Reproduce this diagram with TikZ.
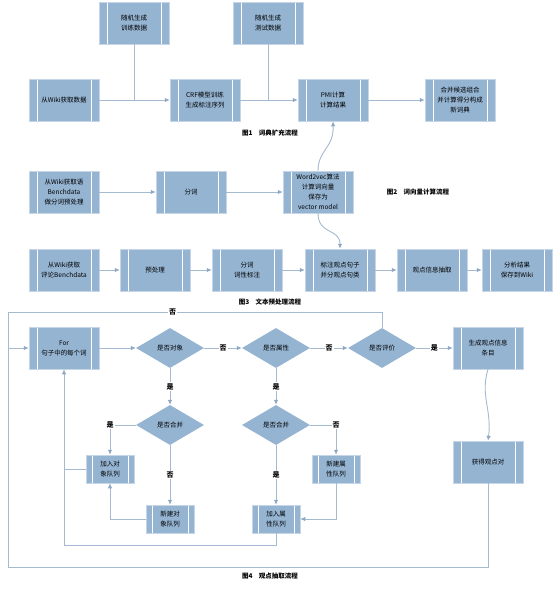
\documentclass[tikz,border=0pt]{standalone}
\usepackage{fontspec}
\setmainfont{Noto Sans CJK SC}
\usetikzlibrary{arrows.meta,shapes.geometric}
\definecolor{boxblue}{HTML}{95B4D2}
\definecolor{boxedge}{HTML}{C6D6E6}
\definecolor{linkc}{HTML}{A3BAD1}
\definecolor{tipc}{HTML}{8DA8C4}
\tikzset{
  procbox/.style={rectangle, fill=boxblue, draw=boxedge, line width=0.5pt,
    minimum width=70pt, minimum height=42pt, inner sep=0pt, align=center,
    font=\fontsize{6.5pt}{10pt}\selectfont, text=black,
    path picture={
      \draw[white, line width=0.9pt]
        ([xshift=#1]path picture bounding box.north west) -- ([xshift=#1]path picture bounding box.south west)
        ([xshift=-#1]path picture bounding box.north east) -- ([xshift=-#1]path picture bounding box.south east);
    }},
  procbox/.default=8pt,
  smallbox/.style={procbox=6pt, minimum width=48pt, minimum height=28pt},
  decide/.style={diamond, fill=boxblue, draw=none, minimum width=68pt, minimum height=40pt,
    inner sep=0pt, font=\fontsize{6.5pt}{8pt}\selectfont, text=black},
  link/.style={draw=linkc, line width=0.9pt},
  flow/.style={link, -{Latex[length=5pt,width=4.5pt,color=tipc]}},
  lab/.style={fill=white, inner sep=1pt, font=\fontsize{7pt}{8pt}\selectfont\bfseries},
  caption/.style={font=\fontsize{6.5pt}{8pt}\selectfont\bfseries, inner sep=0pt}
}
\begin{document}
\begin{tikzpicture}[x=1pt,y=-1pt]
\useasboundingbox[fill=white] (0,0) rectangle (554,589);

% ---------- dictionary expansion ----------
\node[procbox] (gtrain) at (134,23) {随机生成\\训练数据};
\node[procbox] (gtest)  at (268,23) {随机生成\\测试数据};
\node[procbox] (wiki1)  at (64,100) {从Wiki获取数据};
\node[procbox] (crf)    at (205,100) {CRF模型训练\\生成标注序列};
\node[procbox] (pmi)    at (333,100) {PMI计算\\计算结果};
\node[procbox] (merge)  at (460,100) {合并候选组合\\并计算得分构成\\新词典};
\node[caption] (cap1)   at (270,133) {图1\quad 词典扩充流程};

\draw[flow] (wiki1) -- (crf);
\draw[link] (gtrain.south) -- (gtrain.south |- crf.west);
\draw[flow] (crf) -- (pmi);
\draw[link] (gtest.south) -- (gtest.south |- pmi.west);
\draw[flow] (pmi) -- (merge);

% ---------- word vector computation ----------
\node[procbox] (wiki2) at (64,192) {从Wiki获取语\\Benchdata\\做分词预处理};
\node[procbox] (seg)   at (191,192) {分词};
\node[procbox] (w2v)   at (318,192) {Word2vec算法\\计算词向量\\保存为\\vector model};
\node[caption] (cap2)  at (418,192) {图2\quad 词向量计算流程};

\draw[flow] (wiki2) -- (seg);
\draw[flow] (seg) -- (w2v);
\draw[flow] (w2v.north) .. controls (318,150) and (334,148) .. (pmi.south);

% ---------- text preprocessing ----------
\node[procbox] (wiki3) at (64,270)  {从Wiki获取\\评论Benchdata};
\node[procbox] (prep)  at (155,270) {预处理};
\node[procbox] (tag)   at (247,270) {分词\\词性标注};
\node[procbox] (sent)  at (340,270) {标注观点句子\\并分观点句类};
\node[procbox] (ext)   at (432,270) {观点信息抽取};
\node[procbox] (save)  at (517,270) {分析结果\\保存到Wiki};
\node[caption] (cap3)  at (270,302) {图3\quad 文本预处理流程};

\draw[flow] (w2v.south) .. controls (318,235) and (340,228) .. (sent.north);
\draw[flow] (wiki3) -- (prep);
\draw[flow] (prep) -- (tag);
\draw[flow] (tag) -- (sent);
\draw[flow] (sent) -- (ext);
\draw[flow] (ext) -- (save);

% ---------- opinion extraction ----------
\node[procbox] (loop)  at (64,348) {For\\句子中的每个词};
\node[decide]  (isobj) at (170,348) {是否对象};
\node[decide]  (isatt) at (276,348) {是否属性};
\node[decide]  (iseva) at (382,348) {是否评价};
\node[procbox] (gen)   at (488,348) {生成观点信息\\条目};
\node[procbox] (final) at (488,462) {获得观点对};

\node[decide]  (mrg1)  at (170,425) {是否合并};
\node[decide]  (mrg2)  at (276,425) {是否合并};
\node[smallbox] (addobj) at (110,469) {加入对\\象队列};
\node[smallbox] (newobj) at (170,519) {新建对\\象队列};
\node[smallbox] (newatt) at (336,469) {新建属\\性队列};
\node[smallbox] (addatt) at (276,519) {加入属\\性队列};
\node[caption] (cap4)  at (270,576) {图4\quad 观点抽取流程};

\coordinate (topl) at (8,312);
\coordinate (botl) at (8,567);
\coordinate (midl) at (8,348);
\coordinate (backl) at (64,545);

\draw[flow] (midl) -- (loop.west);
\draw[flow] (loop) -- (isobj);
\draw[flow] (isobj) -- node[lab] {否} (isatt);
\draw[flow] (isatt) -- node[lab] {否} (iseva);
\draw[flow] (iseva) -- node[lab] {是} (gen);
\draw[link] (iseva.north) |- node[lab, pos=0.78] {否} (topl) -- (botl) -| (final.south);
\draw[flow] (gen.south) .. controls (480,395) and (492,410) .. (final.north);

\draw[flow] (isobj) -- node[lab] {是} (mrg1);
\draw[flow] (isatt) -- node[lab] {是} (mrg2);

\draw[flow] (mrg1.west) -| node[lab, pos=0.5] {是} (addobj.north);
\draw[flow] (mrg1) -- node[lab] {否} (newobj);
\draw[flow] (newobj.west) -| (addobj.south);

\draw[flow] (mrg2.east) -| node[lab, pos=0.5] {否} (newatt.north);
\draw[flow] (mrg2) -- node[lab] {是} (addatt);
\draw[flow] (newatt.south) |- (addatt.east);

\draw[link] (addobj.west) -- (addobj.west -| backl);
\draw[flow] (addatt.south) |- (backl) -- (loop.south);
\end{tikzpicture}
\end{document}
